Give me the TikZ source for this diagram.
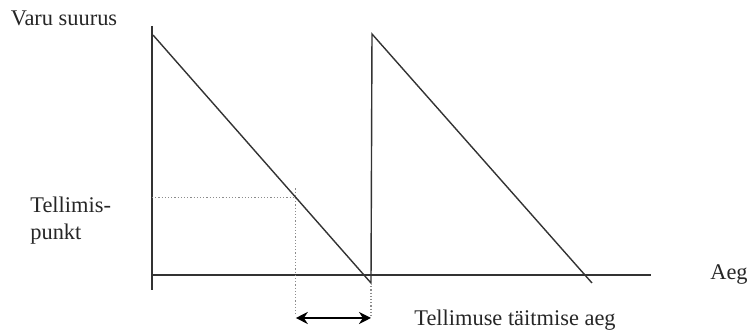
\documentclass[tikz,border=0pt]{standalone}
\usepackage{fontspec}
\setmainfont{Liberation Serif}
\usepackage{tikz}
\usetikzlibrary{arrows.meta,calc}

\begin{document}
\begin{tikzpicture}[
  x=0.5pt, y=-0.5pt,
  axisline/.style  = {line width=0.7pt, black!80},
  stockline/.style = {line width=0.7pt, black!80},
  guide/.style     = {densely dotted, line width=0.6pt, black!45},
  lead/.style      = {{Stealth[length=6pt,width=6pt]}-{Stealth[length=6pt,width=6pt]}, line width=1pt},
  lbl/.style       = {font=\fontsize{11.2}{12.5}\selectfont, inner sep=0pt, text=black!85},
]
\useasboundingbox (0,0) rectangle (752,330);

%% ── Axes ─────────────────────────────────────────────────────────────────────
\coordinate (ytop)  at (152,26);
\coordinate (ybot)  at (152,290);
\coordinate (orig)  at (152,275);
\coordinate (xend)  at (651,275);
\draw[axisline] (ytop) -- (ybot);
\draw[axisline] (orig) -- (xend);

%% ── Stock level sawtooth ─────────────────────────────────────────────────────
\coordinate (top1) at (153,35);
\coordinate (low1) at (371,283);
\coordinate (top2) at (372,34);
\coordinate (low2) at (592,283);
\draw[stockline] (top1) -- (low1) -- (top2) -- (low2);

%% ── Reorder point and lead time ──────────────────────────────────────────────
\coordinate (reord) at ($(top1)!0.655!(low1)$);
\coordinate (rleft) at (orig |- reord);
\coordinate (rup)   at ($(reord)+(0,-9)$);
\coordinate (rdown) at (reord |- 0,316);
\coordinate (ldown) at (low1 |- 0,316);
\draw[guide] (rleft) -- (reord);
\draw[guide] (rup) -- (rdown);
\draw[guide] (low1) -- (ldown);
\draw[lead] ($(rdown)+(0,2)$) -- ($(ldown)+(0,2)$);

%% ── Labels ───────────────────────────────────────────────────────────────────
\node[lbl] (ylab)  at (64,18)  {Varu suurus};
\node[lbl, align=left, anchor=west] (rplab) at (30,221) {Tellimis-\\[1pt]punkt};
\node[lbl] (xlab)  at (729,275) {Aeg};
\node[lbl] (ltlab) at (515,320) {Tellimuse täitmise aeg};

\end{tikzpicture}
\end{document}
